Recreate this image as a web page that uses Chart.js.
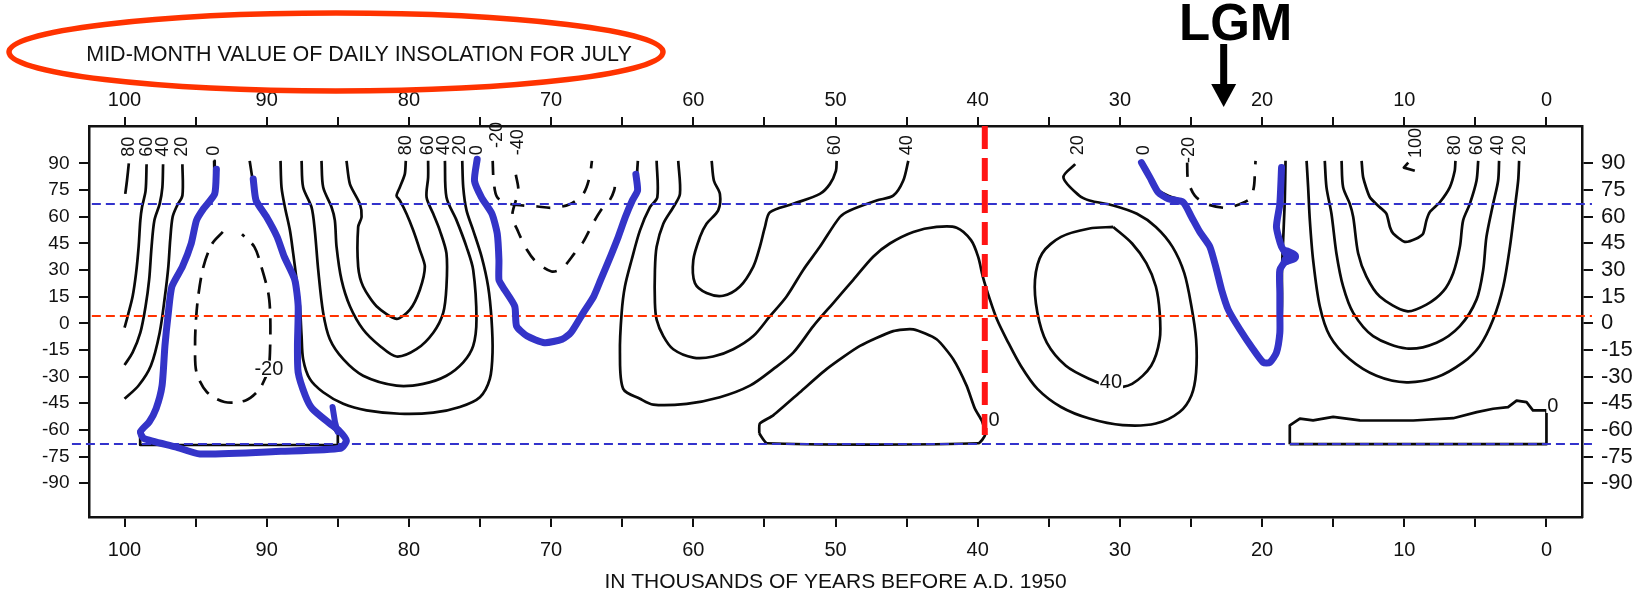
<!DOCTYPE html>
<html><head><meta charset="utf-8">
<script src="https://cdn.jsdelivr.net/npm/chart.js@4.4.1/dist/chart.umd.min.js"></script>
<style>html,body{margin:0;padding:0;background:#fff;}#wrap{width:1643px;height:598px;position:relative;}</style>
</head><body><div id="wrap"><canvas id="c"></canvas></div>
<script>
const FONT = '"Liberation Sans", Arial, Helvetica, sans-serif';
const chartTitle = 'MID-MONTH VALUE OF DAILY INSOLATION FOR JULY';
const xTitle = 'IN THOUSANDS OF YEARS BEFORE A.D. 1950';
const lgmLabel = 'LGM';
const lgmAge = 22.7;
const xTickValues = [0,5,10,15,20,25,30,35,40,45,50,55,60,65,70,75,80,85,90,95,100];
const xLabelValues = [0,10,20,30,40,50,60,70,80,90,100];
const yTickValues = [-90,-75,-60,-45,-30,-15,0,15,30,45,60,75,90];

// contours: [kyr BP, latitude]
const c80L = [[99.7,90],[99.83,80.2],[99.95,72.8]];
const c60L = [[98.45,89.5],[98.52,74.6],[98.77,65.4],[98.89,57.9],[99.01,43.0],[99.19,28.2],[99.43,15.2],[99.75,4.9],[100.0,-2.5]];
const c40L = [[97.29,89.5],[97.34,76.5],[97.53,67.2],[97.9,57.9],[98.1,43.0],[98.27,24.5],[98.52,9.6],[98.89,-5.3],[99.43,-16.4],[100.0,-23.5]];
const c20L = [[95.93,89.5],[95.93,71.9],[96.3,66.3],[96.62,59.8],[96.79,46.8],[96.92,31.9],[97.16,15.2],[97.53,-5.3],[98.15,-23.9],[99.01,-35.0],[100.0,-42.5]];
const c0A = [[93.7,91.4],[93.66,73],[94.4,65],[94.9,58],[95.3,45],[95.9,32],[96.6,21],[96.9,6],[97.15,-13],[97.35,-35],[97.75,-48],[98.3,-55.5],[98.9,-60],[98.9,-68.5],[85.0,-68.5],[85.0,-62],[85.6,-56.4],[86.8,-48],[87.3,-40.6],[87.8,-27.6],[87.85,-12.7],[87.8,9.6],[88.05,24.5],[88.8,37.5],[89.3,48.6],[90.0,59.8],[90.8,69],[91.0,81],[91.2,91.4]];
const cm20A = [[93.09,51.4],[93.83,44.9],[94.45,31.9],[94.82,15.2],[94.99,0.3],[95.04,-12.7],[94.94,-27.6],[94.2,-38.8],[92.97,-44.3],[91.49,-43.4],[90.5,-36.9],[89.89,-25.7],[89.76,-12.7],[89.76,5.9],[89.89,17.0],[90.38,31.9],[90.87,43.0],[91.74,50.1]];
const c20A = [[89.03,91.4],[88.96,76.5],[88.72,65.3],[88.37,52.3],[88.14,39.3],[87.9,24.4],[87.67,9.6],[87.55,-7.2],[87.44,-20.2],[86.97,-31.3],[86.03,-38.8],[84.62,-45.3],[82.98,-49.0],[80.64,-50.9],[78.29,-50.3],[76.42,-47.1],[75.01,-41.6],[74.31,-31.3],[74.12,-16.5],[74.19,2.1],[74.43,20.7],[74.89,37.5],[75.48,52.3],[75.95,63.5],[76.18,76.5],[76.25,91.4]];
const c40A = [[87.55,91.4],[87.44,76.5],[86.85,65.3],[86.62,52.3],[86.38,30.0],[86.03,5.85],[85.56,-9.0],[84.62,-20.2],[83.22,-29.5],[80.87,-35.1],[79.0,-34.1],[77.36,-29.5],[76.18,-22.0],[75.48,-12.75],[75.25,2.1],[75.48,30.0],[75.95,43.0],[76.65,57.9],[77.36,70.9],[77.47,91.4]];
const c60A = [[86.15,91.4],[86.03,76.5],[85.44,65.3],[85.21,57.9],[85.09,43.0],[84.74,24.4],[84.15,9.6],[83.22,-3.5],[82.04,-12.75],[80.87,-18.7],[79.47,-14.6],[78.29,-5.3],[77.59,5.85],[77.36,20.7],[77.36,39.3],[77.83,52.3],[78.29,61.6],[78.76,70.9],[78.65,82.1],[78.65,91.4]];
const c80A = [[84.39,91.4],[84.15,78.3],[83.45,67.2],[83.33,59.8],[83.57,54.2],[83.57,31.9],[83.22,20.7],[82.28,9.6],[80.87,2.5],[79.93,7.7],[79.23,18.9],[78.88,31.9],[79.23,41.2],[79.7,52.3],[80.17,61.6],[80.64,69.1],[80.87,71.8],[80.64,76.5],[80.29,83.9],[80.22,91.4]];
const c0B = [[75.3,91.4],[75.3,80],[74.8,70.5],[74.1,61],[73.8,50],[73.65,35],[73.6,24],[73.3,19],[72.5,9],[72.35,-2],[71.6,-8],[70.4,-11.5],[69.2,-9.5],[68.6,-5.5],[67.7,5.5],[67.0,15],[66.5,24.5],[66.0,34],[65.3,48.5],[64.8,60],[64.2,70],[63.9,75],[63.95,84],[63.9,91.4]];
const cm20B = [[74.11,91.4],[74.04,80.2],[73.79,70.9],[72.93,67.2],[70.95,65.7],[69.97,65.0],[68.73,66.8],[67.74,72.8],[67.3,82.1],[67.13,91.4]];
const cm40B = [[72.48,83.6],[72.31,74.7],[72.73,60.7],[72.31,51.4],[71.69,41.2],[71.07,34.7],[69.97,29.1],[69.22,31.0],[68.36,39.3],[67.74,45.8],[67.13,55.1],[66.51,63.5],[65.89,69.1],[65.57,74.7],[65.47,80.2]];
const c20B = [[62.58,91.4],[62.53,70.9],[63.05,65.3],[63.75,52.3],[64.34,35.6],[64.81,20.7],[65.04,5.85],[65.16,-16.5],[64.93,-36.9],[63.75,-42.5],[62.82,-45.8],[60.47,-45.3],[58.13,-41.6],[56.02,-35.1],[54.38,-25.8],[52.97,-16.5],[51.56,-1.6],[50.16,11.4],[48.75,24.4],[47.35,37.45],[46.18,44.9],[44.53,51.4],[42.89,54.2],[41.48,53.8],[40.47,46.8],[39.97,37.5],[39.64,26.3],[39.14,13.3],[38.64,2.1],[37.97,-9.0],[36.97,-23.9],[35.8,-36.9],[34.14,-47.1],[32.14,-53.6],[29.8,-57.3],[27.47,-56.4],[25.8,-49.9],[24.97,-40.6],[24.64,-27.6],[24.64,-9.0],[24.97,9.6],[25.47,28.2],[26.3,43.0],[27.47,54.2],[28.8,61.6],[30.47,66.3],[32.14,69.1],[32.87,71.9],[33.97,82.1],[33.14,89.5]];
const c40B = [[61.06,91.4],[60.94,72.8],[61.41,65.3],[62.11,56.0],[62.58,43.0],[62.7,30.0],[62.7,11.4],[62.58,2.1],[62.11,-7.2],[61.41,-14.6],[60.0,-19.3],[58.6,-18.7],[57.19,-14.6],[55.78,-7.2],[54.61,4.0],[53.44,15.1],[52.27,30.0],[51.1,43.0],[49.69,59.8],[48.99,63.5],[47.11,69.1],[45.94,71.8],[45.24,80.2],[44.88,91.4]];
const c60B = [[58.71,91.4],[58.55,80.2],[58.13,72.8],[58.25,63.5],[59.07,56.0],[59.53,48.6],[60.0,35.6],[59.89,22.6],[59.07,17.0],[57.9,15.5],[56.72,20.7],[55.78,31.9],[55.32,43.0],[54.96,54.2],[54.61,62.5],[52.97,67.2],[51.1,72.8],[50.4,78.3],[49.97,85.8],[49.92,91.4]];
const c0D = [[55.36,-62],[55.32,-56.4],[54.38,-51.8],[52.5,-38.8],[50.63,-25.8],[48.28,-12.75],[45.94,-4.4],[44.53,-3.45],[42.89,-9.0],[41.72,-20.2],[40.78,-35.1],[40.2,-48],[39.7,-55],[39.47,-62.6],[39.97,-67.5],[54.8,-67.5],[55.36,-62]];
const c40C = [[30.47,54.2],[32.14,53.3],[34.14,48.6],[35.47,39.3],[35.97,24.5],[35.8,5.9],[35.14,-10.9],[33.8,-23.9],[32.14,-31.3],[30.47,-36.0],[29.14,-34.1],[27.8,-23.9],[27.2,-9.0],[27.2,5.9],[27.47,20.7],[28.14,33.8],[29.14,44.9],[30.47,54.2]];
const c0C = [[28.5,91.4],[27.9,83],[27.3,75],[26.5,71.5],[25.7,69],[25.0,61],[24.4,52],[23.7,43],[23.2,30],[22.8,19],[22.4,8],[21.6,-3],[20.6,-14],[19.8,-21.5],[19.3,-21],[18.9,-15],[18.7,-5],[18.6,10],[18.6,30],[18.5,50],[18.4,70],[18.35,91.4]];
const cm20C = [[25.27,90.4],[25.2,80.2],[24.73,71.8],[23.91,67.2],[22.74,65.0],[22.03,65.7],[20.86,70.0],[20.58,76.5],[20.51,83.9],[20.46,91.4]];
const c100R = [[9.72,90.4],[10.03,87.6],[9.26,85.8]];
const c80R = [[13.0,91.4],[12.89,82.1],[12.42,70.9],[11.72,65.3],[11.25,61.6],[11.01,54.2],[10.78,50.5],[9.96,45.8],[9.14,47.7],[8.67,50.5],[8.44,57.9],[8.2,62.6],[7.5,68.1],[6.8,76.5],[6.45,85.8],[6.4,91.4]];
const c60R = [[14.41,91.4],[14.3,76.5],[13.83,67.2],[13.59,59.8],[13.24,39.3],[12.66,26.3],[11.72,15.1],[9.84,6.8],[8.44,10.5],[7.27,17.9],[6.56,28.2],[6.09,43.0],[5.86,57.9],[5.39,67.2],[4.92,80.2],[4.8,91.4]];
const c40R = [[15.59,91.4],[15.47,76.5],[15.12,61.6],[14.77,39.3],[14.3,20.7],[13.59,5.85],[12.19,-7.2],[9.84,-14.2],[7.73,-10.9],[6.09,-1.6],[4.92,13.3],[4.45,30.0],[4.22,48.6],[3.75,67.2],[3.4,80.2],[3.33,91.4]];
const c20R = [[16.87,91.4],[16.76,76.5],[16.64,57.9],[16.41,35.6],[15.94,9.6],[15.23,-7.2],[13.83,-20.2],[11.95,-29.5],[9.84,-33.2],[7.73,-30.4],[5.86,-22.0],[4.69,-12.75],[3.75,2.1],[3.04,20.7],[2.57,43.0],[2.22,65.3],[1.99,80.2],[1.92,91.4]];
const c0E = [[18.05,-68],[18.05,-57.4],[17.34,-53.6],[16.41,-54.6],[15.0,-52.7],[13.12,-54.6],[10.78,-54.7],[9.37,-54.7],[6.56,-53.4],[4.9,-50],[3.75,-48.1],[2.7,-47.2],[2.1,-43.5],[1.4,-44.4],[0.95,-49],[0,-49],[0,-68],[18.05,-68]];

// hand-drawn blue highlight lines
const blue1 = [[93.54,86.7],[93.66,72.8],[94.45,64.4],[94.94,57.9],[95.31,44.9],[95.93,31.9],[96.67,20.7],[96.92,5.9],[97.16,-12.7],[97.36,-35.0],[97.78,-48.0],[98.27,-55.5],[98.89,-61.1],[98.64,-64.8],[96.42,-69.5],[94.7,-73.5],[89.0,-72.0],[84.8,-70.3],[84.4,-66],[84.95,-60.1],[85.57,-56.4],[86.8,-48.0],[87.29,-40.6],[87.79,-27.6],[87.84,-12.7],[87.79,9.6],[88.03,24.5],[88.77,37.5],[89.27,48.6],[90.01,59.8],[90.75,69.1],[90.95,81.2]];
const blue1Spur = [[85.37,-47.1],[85.2,-55.5],[85.02,-61.1]];
const blue2 = [[75.2,92.3],[75.39,80.2],[74.9,70.9],[74.16,61.6],[73.79,50.5],[73.67,35.6],[73.67,24.5],[73.42,20.7],[72.56,9.6],[72.43,-1.6],[71.69,-7.2],[70.46,-10.9],[69.22,-9.0],[68.61,-5.3],[67.74,5.9],[67.0,15.2],[66.51,24.5],[66.02,33.8],[65.28,48.6],[64.78,59.8],[64.29,69.1],[63.92,74.7],[64.04,83.9]];
const blue3 = [[28.48,90.4],[27.89,82.1],[27.31,73.7],[26.6,70.0],[25.55,68.1],[24.96,59.8],[24.38,51.4],[23.67,43.0],[23.2,30.0],[22.85,18.9],[22.38,7.7],[21.56,-3.5],[20.63,-14.6],[19.92,-22.0],[19.45,-22.0],[18.99,-16.5],[18.75,-5.3],[18.75,5.85],[18.75,17.0],[18.75,30.0],[18.28,35.6],[17.81,37.45],[18.28,39.3],[18.63,43.0],[18.99,54.2],[18.75,67.2],[18.63,87.6]];
const blue3Blob = [[18.3,35.5],[17.75,37.5],[18.3,40]];

// reference lines
const redVertical = [[39.5,111],[39.5,-62.8]];
const redHorizontal = [[102.3,4.1],[-3.2,4.1]];
const blueNorth = [[102.3,67.1],[-3.2,67.1]];
const blueSouth = [[103.7,-67.9],[-3.2,-67.9]];

// contour labels [text, kyr, lat]
const topLabels = [['80',99.7,93.7],['60',98.45,93.7],['40',97.29,93.7],['20',95.93,93.7],['0',93.71,94.2],
 ['80',80.18,94.6],['60',78.66,94.6],['40',77.5,94.6],['20',76.38,94.6],['0',75.24,94.6],['-20',73.83,98.6],['-40',72.31,94.6],
 ['60',50.04,94.6],['40',45.0,94.6],['20',32.97,94.6],['0',28.31,94.6],['-20',25.15,90.2],
 ['100',9.14,93],['80',6.44,94.6],['60',4.89,94.6],['40',3.42,94.6],['20',1.87,94.6]];
const inlineLabels = [['-20',89.85,-25.7],['40',30.63,-32.5],['0',38.85,-54.4],['0',-0.45,-46]];

function ds(pts, o){
  return Object.assign({data: pts.map(p=>({x:p[0],y:p[1]})), showLine:true, pointRadius:0, pointHoverRadius:0,
    borderColor:'#0a0a0a', borderWidth:2.7, fill:false, tension:0.3, order:5, xAxisID:'x', yAxisID:'y',
    borderJoinStyle:'round', borderCapStyle:'butt'}, o||{});
}
const BLUE = '#3434c8';
const refClip = {left:22, right:12, top:0, bottom:0};
const datasets = [
  ds(redVertical,{borderColor:'#ff1414', borderWidth:6, borderDash:[23,9], tension:0, order:0}),
  ds(blue1,{borderColor:BLUE, borderWidth:7, tension:0.2, order:1, borderCapStyle:'round'}),
  ds(blue1Spur,{borderColor:BLUE, borderWidth:6, tension:0, order:1, borderCapStyle:'round'}),
  ds(blue2,{borderColor:BLUE, borderWidth:7, tension:0.2, order:1, borderCapStyle:'round'}),
  ds(blue3,{borderColor:BLUE, borderWidth:7, tension:0.2, order:1, borderCapStyle:'round'}),
  ds(blue3Blob,{borderColor:BLUE, borderWidth:10, tension:0.3, order:1, borderCapStyle:'round'}),
  ds(redHorizontal,{borderColor:'#ff3300', borderWidth:2, borderDash:[9,5], tension:0, order:2, clip:refClip}),
  ds(blueNorth,{borderColor:'#3333cc', borderWidth:2, borderDash:[9,5], tension:0, order:2, clip:refClip}),
  ds(blueSouth,{borderColor:'#3333cc', borderWidth:2, borderDash:[9,5], tension:0, order:2, clip:refClip}),
  ds(c80L), ds(c60L), ds(c40L), ds(c20L), ds(c0A,{tension:0}),
  ds(cm20A,{borderDash:[16,10]}),
  ds(c20A), ds(c40A), ds(c60A), ds(c80A,{tension:0.25}),
  ds(c0B), ds(cm20B,{borderDash:[14,12]}), ds(cm40B,{borderDash:[14,12]}),
  ds(c20B), ds(c40B), ds(c60B), ds(c0D,{tension:0.2}), ds(c40C),
  ds(c0C), ds(cm20C,{borderDash:[14,12]}),
  ds(c100R,{tension:0}), ds(c80R,{tension:0.2}), ds(c60R), ds(c40R), ds(c20R), ds(c0E,{tension:0})
];

const decor = {
  id:'decor',
  afterDatasetsDraw(chart){
    const ctx = chart.ctx, xs = chart.scales.x, ys = chart.scales.y;
    ctx.save();
    ctx.fillStyle = '#111';
    ctx.font = '18px ' + FONT;
    topLabels.forEach(([t,xv,yv])=>{
      ctx.save();
      ctx.translate(xs.getPixelForValue(xv), ys.getPixelForValue(yv));
      ctx.rotate(-Math.PI/2);
      ctx.textAlign='left'; ctx.textBaseline='middle';
      ctx.fillText(t,0,0);
      ctx.restore();
    });
    ctx.font = '20px ' + FONT;
    ctx.textAlign='center'; ctx.textBaseline='middle';
    inlineLabels.forEach(([t,xv,yv])=>{
      const px = xs.getPixelForValue(xv), py = ys.getPixelForValue(yv);
      const w = ctx.measureText(t).width;
      ctx.fillStyle='#fff';
      ctx.fillRect(px-w/2-1, py-8, w+2, 16);
      ctx.fillStyle='#111';
      ctx.fillText(t,px,py+1);
    });
    ctx.restore();
  },
  afterDraw(chart){
    const ctx = chart.ctx, xs = chart.scales.x;
    ctx.save();
    // title + ellipse
    ctx.fillStyle='#111';
    ctx.font = '21.5px ' + FONT;
    ctx.textAlign='center'; ctx.textBaseline='middle';
    ctx.fillText(chartTitle, 359, 55);
    ctx.beginPath();
    ctx.ellipse(336, 52, 327, 39, 0, 0, Math.PI*2);
    ctx.strokeStyle='#ff3300'; ctx.lineWidth=5.5; ctx.stroke();
    // LGM marker
    const ax = xs.getPixelForValue(lgmAge);
    ctx.fillStyle='#000';
    ctx.font = 'bold 51px ' + FONT;
    ctx.textAlign='center'; ctx.textBaseline='alphabetic';
    ctx.fillText(lgmLabel, ax+12, 40);
    ctx.fillRect(ax-3.5, 44, 7, 42);
    ctx.beginPath();
    ctx.moveTo(ax-12.5, 84); ctx.lineTo(ax+12.5, 84); ctx.lineTo(ax, 107); ctx.closePath();
    ctx.fill();
    ctx.restore();
  }
};

function xAxis(pos, h, tl, pad){
  return {type:'linear', axis:'x', position:pos, min:-2.5, max:102.5, reverse:true,
    afterBuildTicks: s=>{ s.ticks = xTickValues.map(v=>({value:v})); },
    afterFit: s=>{ s.height = h; },
    ticks:{autoSkip:false, maxRotation:0, minRotation:0, color:'#111', font:{family:FONT,size:20}, padding:pad,
      callback: v => xLabelValues.includes(v) ? String(v) : ''},
    grid:{display:true, drawOnChartArea:false, drawTicks:true, tickLength:tl, color:'#111', lineWidth:2},
    border:{display:true, color:'#111', width:2.5}};
}
function yAxis(pos, w, tl, pad, size){
  return {type:'linear', axis:'y', position:pos, min:-109, max:111,
    afterBuildTicks: s=>{ s.ticks = yTickValues.map(v=>({value:v})); },
    afterFit: s=>{ s.width = w; },
    ticks:{autoSkip:false, color:'#111', font:{family:FONT,size:size}, padding:pad, callback: v => String(v)},
    grid:{display:true, drawOnChartArea:false, drawTicks:true, tickLength:tl, color:'#111', lineWidth:2},
    border:{display:true, color:'#111', width:2.5}};
}
const xBottom = xAxis('bottom', 81, 10, 11);
xBottom.title = {display:true, text:xTitle, color:'#111', font:{family:FONT,size:21}, padding:{top:0,bottom:3}};

new Chart(document.getElementById('c'), {
  type:'scatter',
  data:{datasets},
  options:{
    responsive:true, maintainAspectRatio:false, devicePixelRatio:1, animation:false, events:[],
    layout:{padding:0},
    plugins:{legend:{display:false}, tooltip:{enabled:false}, title:{display:false}},
    scales:{
      x: xBottom,
      x2: xAxis('top', 126, 9, 5),
      y: yAxis('left', 89, 10, 9.5, 19),
      y2: yAxis('right', 61, 11, 8, 22)
    }
  },
  plugins:[decor]
});
</script></body></html>
